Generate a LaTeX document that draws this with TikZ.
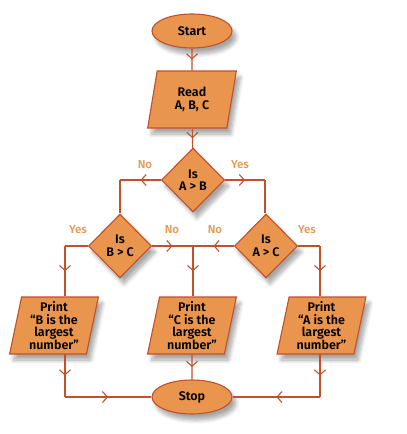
\documentclass[tikz,border=0pt]{standalone}
\usepackage{fontspec}
\setmainfont{Fira Sans}[BoldFont={Fira Sans SemiBold}]
\usetikzlibrary{shapes.geometric,arrows.meta,decorations.markings,shadows.blur}

\definecolor{boxfill}{HTML}{E9954E}
\definecolor{boxline}{HTML}{C2502B}
\definecolor{labelcol}{HTML}{E59B57}

\tikzset{
  x=1pt, y=-1pt,
  every node/.style={font=\fontsize{12.5}{12.5}\selectfont\bfseries, align=center, text=black},
  shadowed/.style={blur shadow={shadow xshift=4pt, shadow yshift=-6pt, shadow blur steps=8, shadow blur radius=4pt, shadow opacity=35}},
  terminal/.style={ellipse, draw=boxline, fill=boxfill, line width=1.1pt, inner sep=0pt,
                   minimum width=80pt, minimum height=34pt, shadowed},
  iobox/.style={trapezium, trapezium left angle=79, trapezium right angle=101,
                trapezium stretches=true, draw=boxline, fill=boxfill, line width=1.1pt,
                inner sep=0pt, minimum width=89pt, minimum height=57pt, shadowed},
  decision/.style={diamond, draw=boxline, fill=boxfill, line width=1.1pt, inner sep=0pt,
                   minimum width=63pt, minimum height=64pt, shadowed},
  link/.style={draw=boxline, line width=1.1pt},
  flow/.style={link, postaction={decorate},
    decoration={markings, mark=at position 0.5 with {\arrow{Straight Barb[length=5pt, width=11pt, line width=1.1pt]}}}},
  branch/.style={font=\fontsize{11.5}{12}\selectfont\bfseries, text=labelcol},
}

\begin{document}
\begin{tikzpicture}
\useasboundingbox (0,0) rectangle (407,434);

% start, input and the three comparisons
\node[terminal] (start) at (192,31) {Start};
\node[iobox] (read) at (192,99.5) {Read\\A, B, C};
\node[decision] (ab) at (193,180) {Is\\A > B};
\node[decision] (bc) at (120,246) {Is\\B > C};
\node[decision] (ac) at (266,246) {Is\\A > C};

% outputs and end
\node[iobox] (pb) at (54,325.5) {Print\\“B is the\\largest\\number”};
\node[iobox] (pc) at (192,325.5) {Print\\“C is the\\largest\\number”};
\node[iobox] (pa) at (321.5,325.5) {Print\\“A is the\\largest\\number”};
\node[terminal] (stop) at (192,397) {Stop};

% bends of the connectors
\coordinate (noab) at (120,180);
\coordinate (yesab) at (265,180);
\coordinate (yesbc) at (65,246);
\coordinate (join) at (193,246);
\coordinate (yesac) at (320,246);
\coordinate (outb) at (65,354);
\coordinate (outa) at (320,354);
\coordinate (endb) at (65,397);
\coordinate (enda) at (320,397);

% connectors
\draw[flow] (start) -- (read);
\draw[flow] (read) -- (ab);
\draw[flow] (ab.west) -- (noab);
\draw[link] (noab) -- (bc.north);
\draw[flow] (ab.east) -- (yesab);
\draw[link] (yesab) -- (yesab |- ac.north);
\draw[link] (bc.west) -- (yesbc);
\draw[flow] (yesbc) -- (yesbc |- pb.north);
\draw[flow] (bc.east) -- (join);
\draw[flow] (ac.west) -- (join);
\draw[flow] (join) -- (join |- pc.north);
\draw[link] (ac.east) -- (yesac);
\draw[flow] (yesac) -- (yesac |- pa.north);
\draw[flow] (outb) -- (endb);
\draw[flow] (endb) -- (stop.west);
\draw[flow] (pc) -- (stop);
\draw[flow] (outa) -- (enda);
\draw[flow] (enda) -- (stop.east);

% branch labels
\node[branch] (l1) at (145,165) {No};
\node[branch] (l2) at (240,165) {Yes};
\node[branch] (l3) at (78,230) {Yes};
\node[branch] (l4) at (172,230) {No};
\node[branch] (l5) at (215,230) {No};
\node[branch] (l6) at (307,230) {Yes};
\end{tikzpicture}
\end{document}
